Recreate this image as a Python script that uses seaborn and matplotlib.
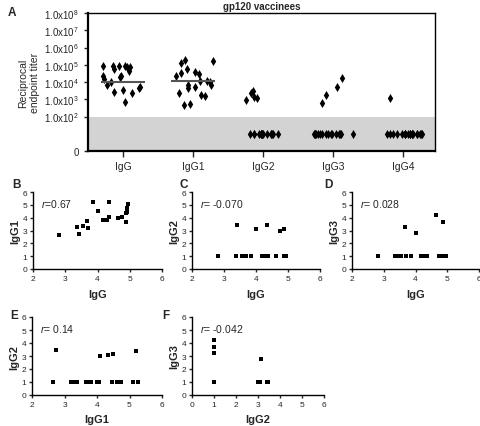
import numpy as np
import pandas as pd
import seaborn as sns
import matplotlib.pyplot as plt

# log10 reciprocal endpoint titers per vaccinee (1 = below detection)
igg = [2.82, 3.37, 3.42, 3.55, 3.67, 3.70, 3.85, 4.01, 4.18, 4.28,
       4.35, 4.37, 4.63, 4.75, 4.88, 4.88, 4.90, 4.92, 4.93, 4.95]
igg1 = [2.65, 3.25, 2.75, 3.38, 3.72, 3.20, 5.25, 4.50, 3.83, 3.82,
        5.20, 4.05, 4.00, 4.08, 3.65, 4.35, 4.45, 4.60, 4.75, 5.10]
igg2 = [1, 1, 3.45, 1, 1, 1, 1, 3.13, 1, 1,
        3.39, 1, 1, 2.98, 1, 3.08, 1, 1, 1, 1]
igg3 = [1, 1, 1, 1, 3.25, 1, 1, 2.80, 1, 1,
        1, 1, 4.22, 1, 3.70, 1, 1, 1, 1, 1]
igg4 = [1, 1, 1, 1, 1, 1, 1, 1, 1, 1,
        1, 1, 1, 1, 1, 1, 1, 1, 1, 3.05]
isotypes = ['IgG', 'IgG1', 'IgG2', 'IgG3', 'IgG4']
center_lines = [4.02, 4.06]  # geometric mean titer for IgG, IgG1

# correlation panels: (letter, x, y, r label)
pairs = [
    ('B', 'IgG', 'IgG1', r'$r$=0.67'),
    ('C', 'IgG', 'IgG2', r'$r$= -0.070'),
    ('D', 'IgG', 'IgG3', r'$r$= 0.028'),
    ('E', 'IgG1', 'IgG2', r'$r$= 0.14'),
    ('F', 'IgG2', 'IgG3', r'$r$= -0.042'),
]

df = pd.DataFrame({'IgG': igg, 'IgG1': igg1, 'IgG2': igg2, 'IgG3': igg3, 'IgG4': igg4})
long = df.melt(var_name='isotype', value_name='log_titer')

sns.set_style('ticks')
plt.rcParams['font.family'] = ['Liberation Sans', 'DejaVu Sans']
plt.rcParams['mathtext.fontset'] = 'custom'
plt.rcParams['mathtext.rm'] = 'Liberation Sans'
plt.rcParams['mathtext.it'] = 'Liberation Sans:italic'

W, H = 481, 427
fig = plt.figure(figsize=(W / 100, H / 100), dpi=100)


def add_ax(left, top, right, bottom):
    return fig.add_axes([left / W, 1 - bottom / H, (right - left) / W, (bottom - top) / H])


def ftext(x, y, s, **kw):
    fig.text(x / W, 1 - y / H, s, **kw)


# --- Panel A ---
ax = add_ax(88, 14, 435, 152)
ax.axhspan(0, 2, color='#d3d3d3', zorder=0, lw=0)
np.random.seed(3)
sns.stripplot(data=long, x='isotype', y='log_titer', order=isotypes, ax=ax,
              color='black', marker='d', size=4.6, linewidth=0, jitter=0.3, zorder=3)
for i, c in enumerate(center_lines):
    ax.hlines(c, i - 0.32, i + 0.32, color='#555555', lw=1.5, zorder=4)
ax.set_xlim(-0.5, 4.46)
ax.set_ylim(0, 8)
ax.set_yticks([0, 2, 3, 4, 5, 6, 7, 8])
ax.set_yticklabels(['0'] + [r'1.0x10$^{%d}$' % k for k in range(2, 9)])
ax.set_xlabel('')
ax.set_ylabel('Reciprocal\nendpoint titer', fontsize=7.5, labelpad=3)
ax.tick_params(axis='y', labelsize=7, direction='out', length=3, width=1)
ax.tick_params(axis='x', labelsize=7.5, direction='out', length=4, width=1, pad=3)
for s in ax.spines.values():
    s.set_color('black')
    s.set_linewidth(1.0)
ax.spines['left'].set_linewidth(1.6)
ax.spines['bottom'].set_linewidth(1.6)
ax.set_title('gp120 vaccinees', fontsize=7, fontweight='bold', pad=3)
ftext(8, 16, 'A', fontsize=8.5, fontweight='bold')

# --- Panels B-F ---
boxes = {
    'B': (33, 193, 162, 270),
    'C': (192, 193, 320, 270),
    'D': (352, 193, 479, 270),
    'E': (32, 318, 162, 396),
    'F': (192, 318, 324, 396),
}
letter_pos = {'B': (12, 179), 'C': (179, 179), 'D': (324, 179),
              'E': (10, 310), 'F': (162, 310)}

for letter, xcol, ycol, rlab in pairs:
    a = add_ax(*boxes[letter])
    sns.scatterplot(data=df, x=xcol, y=ycol, ax=a, color='black', marker='s',
                    s=12, linewidth=0)
    lo = 0 if xcol == 'IgG2' else 2
    a.set_xlim(lo, 6)
    a.set_ylim(0, 6)
    a.set_xticks(range(lo, 7))
    a.set_yticks(range(0, 7))
    a.set_xlabel(xcol, fontsize=8, fontweight='bold', labelpad=5)
    a.set_ylabel(ycol, fontsize=8, fontweight='bold', labelpad=2)
    a.tick_params(labelsize=6, direction='out', length=2.5, width=1, pad=1.5)
    sns.despine(ax=a)
    for s in ('left', 'bottom'):
        a.spines[s].set_linewidth(1.0)
        a.spines[s].set_color('black')
    a.text(0.06, 0.93, rlab, transform=a.transAxes, fontsize=7.5, va='top')
    for coll in a.collections:
        coll.set_clip_on(False)
    ftext(*letter_pos[letter], letter, fontsize=8.5, fontweight='bold', va='top')

fig.savefig('out.png', dpi=100)
